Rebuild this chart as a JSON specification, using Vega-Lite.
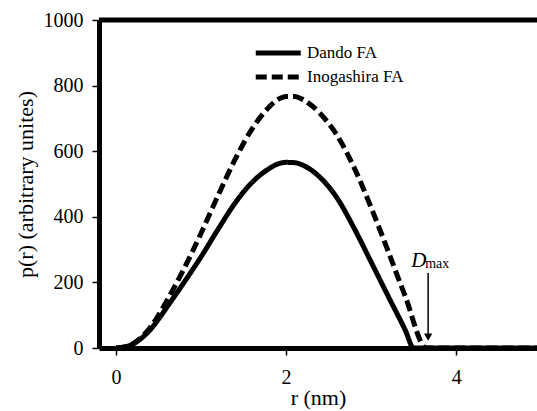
{
  "$schema": "https://vega.github.io/schema/vega-lite/v6.json",
  "width": 438,
  "height": 328,
  "autosize": {"type": "none"},
  "padding": {"left": 99, "top": 20, "right": 0, "bottom": 63},
  "background": "white",
  "config": {
    "view": {"stroke": null},
    "axis": {
      "grid": false,
      "domainColor": "black",
      "domainWidth": 5,
      "tickColor": "black",
      "tickWidth": 1.5,
      "tickSize": 7,
      "labelFont": "Liberation Serif",
      "labelFontSize": 20,
      "labelColor": "black",
      "titleFont": "Liberation Serif",
      "titleFontSize": 22,
      "titleFontWeight": "normal",
      "titleColor": "black"
    }
  },
  "layer": [
    {
      "data": {
        "values": [
          {"series": "Dando FA", "r": 0, "p": 0},
          {"series": "Dando FA", "r": 0.1, "p": 3},
          {"series": "Dando FA", "r": 0.2, "p": 12},
          {"series": "Dando FA", "r": 0.3, "p": 30},
          {"series": "Dando FA", "r": 0.4, "p": 55},
          {"series": "Dando FA", "r": 0.5, "p": 88},
          {"series": "Dando FA", "r": 0.6, "p": 125},
          {"series": "Dando FA", "r": 0.8, "p": 200},
          {"series": "Dando FA", "r": 1.0, "p": 278},
          {"series": "Dando FA", "r": 1.2, "p": 362},
          {"series": "Dando FA", "r": 1.4, "p": 442},
          {"series": "Dando FA", "r": 1.6, "p": 505},
          {"series": "Dando FA", "r": 1.8, "p": 547},
          {"series": "Dando FA", "r": 1.9, "p": 561},
          {"series": "Dando FA", "r": 2.0, "p": 566},
          {"series": "Dando FA", "r": 2.1, "p": 565},
          {"series": "Dando FA", "r": 2.2, "p": 557},
          {"series": "Dando FA", "r": 2.4, "p": 520},
          {"series": "Dando FA", "r": 2.6, "p": 457},
          {"series": "Dando FA", "r": 2.8, "p": 365},
          {"series": "Dando FA", "r": 3.0, "p": 262},
          {"series": "Dando FA", "r": 3.2, "p": 158},
          {"series": "Dando FA", "r": 3.4, "p": 55},
          {"series": "Dando FA", "r": 3.5, "p": 0},
          {"series": "Dando FA", "r": 4.95, "p": 0},
          {"series": "Inogashira FA", "r": 0, "p": 0},
          {"series": "Inogashira FA", "r": 0.1, "p": 3},
          {"series": "Inogashira FA", "r": 0.2, "p": 13},
          {"series": "Inogashira FA", "r": 0.3, "p": 33},
          {"series": "Inogashira FA", "r": 0.4, "p": 62},
          {"series": "Inogashira FA", "r": 0.5, "p": 100},
          {"series": "Inogashira FA", "r": 0.6, "p": 145},
          {"series": "Inogashira FA", "r": 0.8, "p": 242},
          {"series": "Inogashira FA", "r": 1.0, "p": 350},
          {"series": "Inogashira FA", "r": 1.2, "p": 465},
          {"series": "Inogashira FA", "r": 1.4, "p": 575},
          {"series": "Inogashira FA", "r": 1.6, "p": 668},
          {"series": "Inogashira FA", "r": 1.8, "p": 735},
          {"series": "Inogashira FA", "r": 1.9, "p": 757},
          {"series": "Inogashira FA", "r": 2.0, "p": 767},
          {"series": "Inogashira FA", "r": 2.1, "p": 767},
          {"series": "Inogashira FA", "r": 2.2, "p": 757},
          {"series": "Inogashira FA", "r": 2.4, "p": 715},
          {"series": "Inogashira FA", "r": 2.6, "p": 648},
          {"series": "Inogashira FA", "r": 2.8, "p": 550},
          {"series": "Inogashira FA", "r": 3.0, "p": 428},
          {"series": "Inogashira FA", "r": 3.2, "p": 295},
          {"series": "Inogashira FA", "r": 3.4, "p": 158},
          {"series": "Inogashira FA", "r": 3.65, "p": 0},
          {"series": "Inogashira FA", "r": 4.95, "p": 0}
        ]
      },
      "mark": {"type": "line", "color": "black", "strokeWidth": 5, "clip": true, "interpolate": "monotone"},
      "encoding": {
        "x": {
          "field": "r", "type": "quantitative",
          "scale": {"domain": [-0.2, 4.95], "nice": false, "zero": false},
          "axis": {
            "values": [0, 2, 4], "format": "d", "title": "r (nm)",
            "labelPadding": 12, "titlePadding": 0
          }
        },
        "y": {
          "field": "p", "type": "quantitative",
          "scale": {"domain": [0, 1000], "nice": false},
          "axis": {
            "values": [0, 200, 400, 600, 800, 1000],
            "format": "d",
            "title": "p(r) (arbitrary unites)",
            "labelPadding": 9,
            "titleX": -74, "titleY": 164, "titleAngle": -90,
            "titleAlign": "center", "titleBaseline": "middle"
          }
        },
        "strokeDash": {
          "field": "series", "type": "nominal",
          "scale": {"domain": ["Dando FA", "Inogashira FA"], "range": [[1, 0], [11, 5]]},
          "legend": {
            "title": null,
            "orient": "none",
            "legendX": 154,
            "legendY": 19,
            "symbolType": "M-1,0H3",
            "symbolSize": 506,
            "symbolStrokeWidth": 5,
            "symbolStrokeColor": "black",
            "labelFont": "Liberation Serif",
            "labelFontSize": 17,
            "labelColor": "black",
            "labelOffset": 26,
            "rowPadding": -4
          }
        }
      }
    },
    {
      "data": {"values": [{"top": 1000}]},
      "mark": {"type": "rule", "color": "black", "strokeWidth": 5},
      "encoding": {"y": {"field": "top", "type": "quantitative"}}
    },
    {
      "data": {"values": [{"r": 3.67, "p": 229, "p2": 38}]},
      "mark": {"type": "rule", "color": "black", "strokeWidth": 1.5},
      "encoding": {
        "x": {"field": "r", "type": "quantitative"},
        "y": {"field": "p", "type": "quantitative"},
        "y2": {"field": "p2"}
      }
    },
    {
      "data": {"values": [{"r": 3.67, "p": 33}]},
      "mark": {"type": "point", "shape": "triangle-down", "filled": true, "color": "black", "size": 70, "opacity": 1},
      "encoding": {
        "x": {"field": "r", "type": "quantitative"},
        "y": {"field": "p", "type": "quantitative"}
      }
    },
    {
      "data": {"values": [{"r": 3.47, "p": 247, "label": "D"}]},
      "mark": {"type": "text", "font": "Liberation Serif", "fontStyle": "italic", "fontSize": 21, "align": "left", "baseline": "alphabetic", "color": "black"},
      "encoding": {
        "x": {"field": "r", "type": "quantitative"},
        "y": {"field": "p", "type": "quantitative"},
        "text": {"field": "label"}
      }
    },
    {
      "data": {"values": [{"r": 3.635, "p": 245, "label": "max"}]},
      "mark": {"type": "text", "font": "Liberation Serif", "fontSize": 14, "align": "left", "baseline": "alphabetic", "color": "black"},
      "encoding": {
        "x": {"field": "r", "type": "quantitative"},
        "y": {"field": "p", "type": "quantitative"},
        "text": {"field": "label"}
      }
    }
  ]
}
